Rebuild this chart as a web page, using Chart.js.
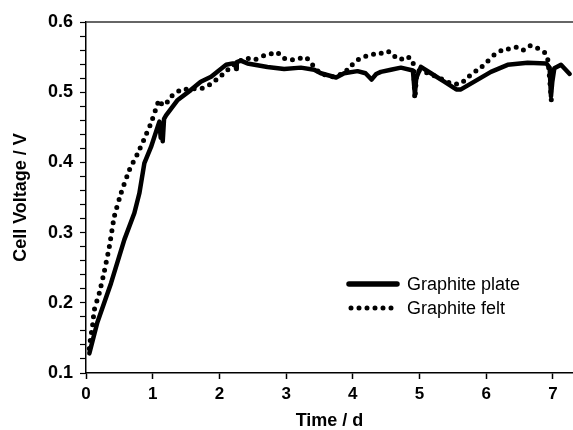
<!DOCTYPE html>
<html>
<head>
<meta charset="utf-8">
<script src="https://cdn.jsdelivr.net/npm/chart.js@4.4.0/dist/chart.umd.min.js"></script>
<style>
  html, body { margin: 0; padding: 0; background: #fff; }
  #wrap { width: 573px; height: 430px; }
</style>
</head>
<body>
<div id="wrap"><canvas id="voltChart"></canvas></div>
<script>
// Graphite plate (solid)
var plateTime = [0.05, 0.17, 0.375, 0.575, 0.725, 0.80, 0.875, 0.975, 1.075, 1.10, 1.12, 1.13, 1.15, 1.17, 1.2,
  1.375, 1.57, 1.72, 1.875, 2.1, 2.2, 2.24, 2.25, 2.26, 2.32, 2.42, 2.72, 2.97, 3.22, 3.42, 3.52, 3.75, 3.87,
  4.07, 4.19, 4.28, 4.35, 4.42, 4.57, 4.72, 4.9, 4.93, 4.95, 5.02, 5.17, 5.37, 5.55, 5.62, 5.82, 6.07, 6.32,
  6.62, 6.9, 6.95, 6.97, 6.99, 7.02, 7.12, 7.25];
var plateVolt = [0.128, 0.172, 0.228, 0.290, 0.328, 0.356, 0.399, 0.422, 0.451, 0.458, 0.435, 0.455, 0.430, 0.462, 0.467,
  0.489, 0.503, 0.515, 0.522, 0.539, 0.541, 0.541, 0.533, 0.543, 0.545, 0.541, 0.536, 0.533, 0.535, 0.532, 0.527, 0.521, 0.527,
  0.530, 0.527, 0.518, 0.526, 0.529, 0.532, 0.535, 0.531, 0.497, 0.520, 0.536, 0.527, 0.515, 0.504, 0.504, 0.515, 0.529, 0.539,
  0.542, 0.541, 0.535, 0.494, 0.515, 0.534, 0.539, 0.526];

// Graphite felt (dotted)
var feltTime = [0.05, 0.065, 0.1, 0.125, 0.2, 0.275, 0.35, 0.425, 0.525, 0.65, 0.775, 0.875, 0.975, 1.05, 1.1, 1.15,
  1.22, 1.31, 1.42, 1.62, 1.77, 1.87, 1.98, 2.08, 2.2, 2.32, 2.42, 2.52, 2.63, 2.75, 2.86, 2.95, 3.06, 3.17, 3.29,
  3.37, 3.5, 3.7, 3.87, 3.97, 4.07, 4.19, 4.3, 4.41, 4.51, 4.6, 4.7, 4.8, 4.9, 4.93, 4.97, 5.1, 5.25, 5.37, 5.49,
  5.61, 5.71, 5.81, 5.92, 6.02, 6.13, 6.24, 6.35, 6.45, 6.55, 6.65, 6.76, 6.87, 6.92, 6.98];
var feltVolt = [0.135, 0.147, 0.169, 0.190, 0.214, 0.245, 0.280, 0.323, 0.356, 0.389, 0.413, 0.434, 0.456, 0.477, 0.489, 0.481,
  0.486, 0.497, 0.503, 0.505, 0.506, 0.512, 0.520, 0.528, 0.538, 0.545, 0.548, 0.546, 0.551, 0.554, 0.557, 0.549, 0.546, 0.547, 0.550,
  0.542, 0.528, 0.522, 0.528, 0.537, 0.546, 0.551, 0.554, 0.555, 0.559, 0.553, 0.546, 0.551, 0.544, 0.491, 0.530, 0.528, 0.522, 0.517, 0.512,
  0.512, 0.520, 0.528, 0.535, 0.544, 0.554, 0.560, 0.562, 0.564, 0.560, 0.566, 0.563, 0.557, 0.548, 0.483];

var xTicks = [0, 1, 2, 3, 4, 5, 6, 7];
var seriesNames = ['Graphite plate', 'Graphite felt'];

function toPoints(xs, ys) {
  return xs.map(function(x, i) { return {x: x, y: ys[i]}; });
}

// legend drawn inside the plot, lower right
var legendBox = {
  id: 'legendBox',
  afterDraw: function(chart) {
    var ctx = chart.ctx, a = chart.chartArea;
    ctx.save();
    // top frame line
    ctx.strokeStyle = '#333';
    ctx.lineWidth = 1.5;
    ctx.beginPath();
    ctx.moveTo(a.left, a.top);
    ctx.lineTo(a.right, a.top);
    ctx.stroke();

    var x0 = a.left + 263, x1 = a.left + 311;
    var rows = [a.top + 262, a.top + 286];
    chart.data.datasets.forEach(function(ds, i) {
      ctx.strokeStyle = '#000';
      ctx.lineWidth = i ? ds.borderWidth : 5.5;
      ctx.lineCap = ds.borderCapStyle || 'butt';
      ctx.setLineDash(ds.borderDash || []);
      ctx.beginPath();
      ctx.moveTo(x0 + (i ? 2 : 0), rows[i]);
      ctx.lineTo(x1, rows[i]);
      ctx.stroke();
      ctx.setLineDash([]);
      ctx.fillStyle = '#000';
      ctx.font = '18px "Liberation Sans", Arial, sans-serif';
      ctx.textBaseline = 'middle';
      ctx.fillText(ds.label, a.left + 321, rows[i] + 1);
    });
    ctx.restore();
  }
};

var ctx = document.getElementById('voltChart').getContext('2d');
new Chart(ctx, {
  type: 'line',
  data: {
    datasets: [{
      label: seriesNames[0],
      data: toPoints(plateTime, plateVolt),
      borderColor: '#000',
      borderWidth: 4.5,
      borderJoinStyle: 'round',
      borderCapStyle: 'round',
      pointRadius: 0,
      tension: 0
    }, {
      label: seriesNames[1],
      data: toPoints(feltTime, feltVolt),
      borderColor: '#000',
      borderWidth: 5,
      borderDash: [0, 8],
      borderCapStyle: 'round',
      pointRadius: 0,
      tension: 0.2
    }]
  },
  options: {
    responsive: true,
    maintainAspectRatio: false,
    animation: false,
    layout: { padding: { top: 22, right: 0, bottom: 0, left: 0 } },
    plugins: {
      legend: { display: false },
      title: { display: false },
      tooltip: { enabled: false }
    },
    scales: {
      x: {
        type: 'linear',
        min: 0,
        max: 7.3,
        afterFit: function(s) { s.height = 57; },
        afterBuildTicks: function(s) { s.ticks = xTicks.map(function(v) { return {value: v}; }); },
        ticks: {
          color: '#000',
          padding: 5,
          maxRotation: 0,
          font: { family: '"Liberation Sans", Arial, sans-serif', size: 17, weight: 'bold' },
          callback: function(v) { return String(v); }
        },
        grid: { drawOnChartArea: false, drawTicks: true, tickLength: 6, color: '#000', tickWidth: 1.5 },
        border: { display: true, color: '#000', width: 1.5 },
        title: {
          display: true,
          text: 'Time / d',
          color: '#000',
          padding: { top: 0, bottom: 0 },
          font: { family: '"Liberation Sans", Arial, sans-serif', size: 18, weight: 'bold', lineHeight: 1 }
        }
      },
      y: {
        min: 0.1,
        max: 0.6,
        afterFit: function(s) { s.width = 86; },
        ticks: {
          stepSize: 0.02,
          color: '#000',
          padding: 7,
          autoSkip: false,
          font: { family: '"Liberation Sans", Arial, sans-serif', size: 18, weight: 'bold' },
          callback: function(v) {
            var r = Math.round(v * 100);
            return r % 10 === 0 ? (r / 100).toFixed(1) : '';
          }
        },
        grid: { drawOnChartArea: false, drawTicks: true, tickLength: 6, color: '#000', tickWidth: 1.2 },
        border: { display: true, color: '#000', width: 1.5 },
        title: {
          display: true,
          text: 'Cell Voltage / V',
          color: '#000',
          padding: { top: 12, bottom: 0 },
          font: { family: '"Liberation Sans", Arial, sans-serif', size: 18, weight: 'bold', lineHeight: 1 }
        }
      }
    }
  },
  plugins: [legendBox]
});
</script>
</body>
</html>
